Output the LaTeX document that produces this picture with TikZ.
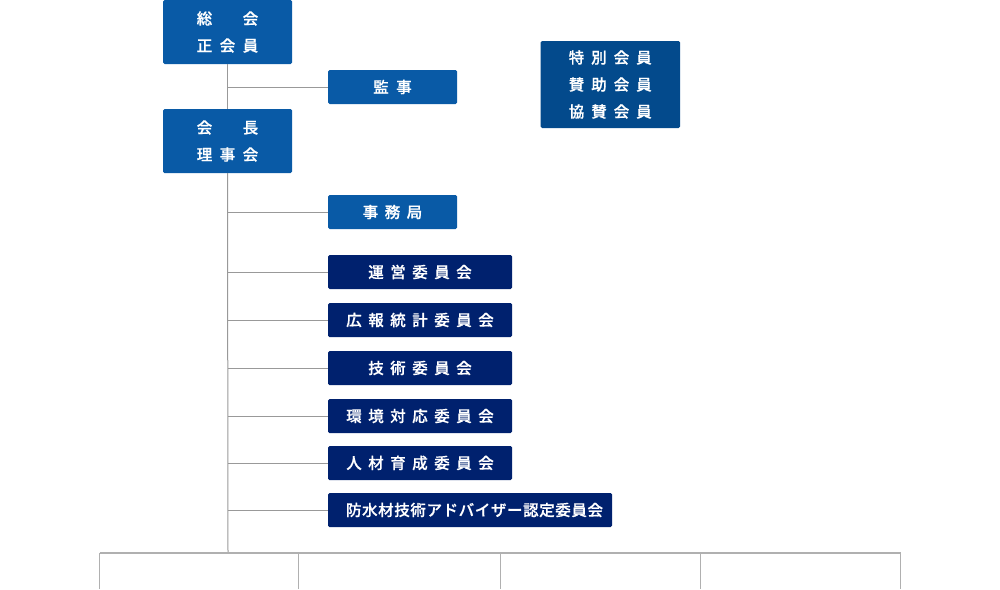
\documentclass[tikz,border=0pt]{standalone}
\usepackage{fontspec}
\XeTeXinputnormalization=1
\newfontfamily\jp[FakeBold=0.6]{Noto Sans CJK JP Medium}
\makeatletter
\newcommand\pitched[2]{\def\pt@w{#1}\@tfor\pt@c:=#2\do{\hbox to \pt@w{\hss\pt@c\hss}}}
\makeatother
\definecolor{midblue}{HTML}{095AA6}
\definecolor{darkblue}{HTML}{034A8C}
\definecolor{navy}{HTML}{00216E}
\definecolor{lineg}{HTML}{999999}
\definecolor{lineb}{HTML}{B0B0B0}
\begin{document}
\begin{tikzpicture}[x=1pt,y=-1pt,
  box/.style={rectangle,rounded corners=1.5pt,inner sep=0pt,text=white,
    font=\jp\fontsize{15.5}{27}\selectfont,align=center},
  bluebox/.style={box,fill=midblue},
  navybox/.style={box,fill=navy},
  darkbox/.style={box,fill=darkblue},
  conn/.style={draw=lineg,line width=1pt},
  bconn/.style={draw=lineb,line width=1.4pt}]
\useasboundingbox (0,0) rectangle (1000,589);
% top-level boxes
\node[bluebox,minimum width=129pt,minimum height=64pt] (soukai) at (227.5,32) {\pitched{23pt}{総　会}\\\pitched{23pt}{正会員}};
\node[bluebox,minimum width=129pt,minimum height=34pt] (kanji) at (392.5,87) {\pitched{23pt}{監事}};
\node[bluebox,minimum width=129pt,minimum height=64pt] (kaicho) at (227.5,141) {\pitched{23pt}{会　長}\\\pitched{23pt}{理事会}};
\node[bluebox,minimum width=129pt,minimum height=34pt] (jimu) at (392.5,212) {\pitched{22pt}{事務局}};
\node[darkbox,minimum width=139.5pt,minimum height=87pt] (tokubetsu) at (610.25,84.5) {\pitched{22.5pt}{特別会員}\\\pitched{22.5pt}{賛助会員}\\\pitched{22.5pt}{協賛会員}};
% committees
\node[navybox,minimum width=184pt,minimum height=34pt] (c1) at (420,272) {\pitched{22pt}{運営委員会}};
\node[navybox,minimum width=184pt,minimum height=34pt] (c2) at (420,320) {\pitched{22pt}{広報統計委員会}};
\node[navybox,minimum width=184pt,minimum height=34pt] (c3) at (420,368) {\pitched{22pt}{技術委員会}};
\node[navybox,minimum width=184pt,minimum height=34pt] (c4) at (420,416) {\pitched{22pt}{環境対応委員会}};
\node[navybox,minimum width=184pt,minimum height=34pt] (c5) at (420,463) {\pitched{22pt}{人材育成委員会}};
\node[navybox,minimum width=284pt,minimum height=34pt] (c6) at (470,510) {\kern9pt\pitched{16.1pt}{防水材技術アドバイザー認定委員会}};
% trunk
\coordinate (tb) at (228,553);
\draw[conn] (soukai.south) -- (kaicho.north);
\draw[conn] (kaicho.south) -- (tb);
\foreach \n in {kanji,jimu,c1,c2,c3,c4,c5,c6}{
  \draw[conn] (\n.west) -- (\n.west -| soukai.south);
}
% bottom line
\coordinate (b1) at (99.5,553);
\coordinate (b2) at (298.5,553);
\coordinate (b3) at (500.5,553);
\coordinate (b4) at (700.5,553);
\coordinate (b5) at (900.5,553);
\draw[bconn] (b1) -- (b5);
\foreach \b in {b1,b2,b3,b4,b5}{
  \draw[bconn] (\b) -- ++(0,36);
}
\end{tikzpicture}
\end{document}
